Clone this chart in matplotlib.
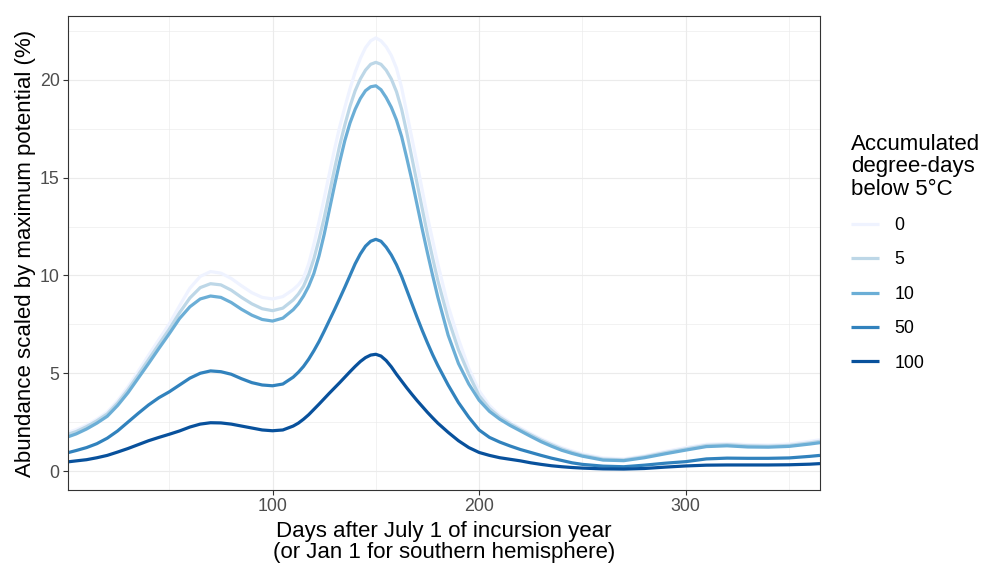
import matplotlib
matplotlib.use("Agg")
import matplotlib.pyplot as plt
from matplotlib.ticker import FixedLocator

plt.rcParams['font.family'] = ['Liberation Sans', 'DejaVu Sans']

days = [1, 5, 10, 15, 20, 25, 30, 35, 40, 45, 50, 55, 60, 65, 70, 75, 80, 85,
        90, 95, 100, 105,
        110, 112.5, 115, 117.5, 120, 122.5, 125, 127.5, 130, 132.5, 135, 137.5,
        140, 142.5, 145, 147.5, 150, 152.5, 155, 157.5, 160, 162.5, 165, 167.5,
        170, 172.5, 175, 177.5, 180,
        185, 190, 195, 200, 205, 210, 215, 220, 225, 230, 235, 240, 245, 250,
        260, 270, 280, 290, 300, 310, 320, 330, 340, 350, 360, 365]

dd0 = [1.97, 2.12, 2.35, 2.65, 3.02, 3.6, 4.3, 5.1, 5.92, 6.72, 7.52, 8.45,
       9.35, 9.95, 10.2, 10.12, 9.85, 9.47, 9.12, 8.88, 8.8, 8.92,
       9.28, 9.52, 9.88, 10.6, 11.6, 12.75, 13.95, 15.2, 16.45, 17.6,
       18.6, 19.55, 20.4, 21.1, 21.65, 22.0, 22.15, 22.0, 21.7, 21.25,
       20.6, 19.6, 18.3, 17.0, 15.7, 14.35, 13.0, 11.8, 10.6,
       8.45, 6.75, 5.25, 4.1, 3.35, 2.85, 2.5, 2.2, 1.92, 1.65, 1.42, 1.2,
       1.03, 0.88,
       0.67, 0.62, 0.78, 1.0, 1.2, 1.37, 1.41, 1.35, 1.33, 1.38, 1.52, 1.6]

dd5 = [1.88, 2.02, 2.27, 2.57, 2.92, 3.48, 4.15, 4.92, 5.7, 6.48, 7.25, 8.1,
       8.85, 9.38, 9.58, 9.52, 9.25, 8.88, 8.55, 8.3, 8.2, 8.33,
       8.75, 9.05, 9.45, 10.05, 10.85, 11.85, 12.95, 14.2, 15.45, 16.65,
       17.7, 18.65, 19.45, 20.05, 20.5, 20.8, 20.9, 20.8, 20.5, 20.05,
       19.4, 18.5, 17.3, 16.0, 14.7, 13.4, 12.1, 10.9, 9.75,
       7.8, 6.2, 4.95, 3.85, 3.2, 2.75, 2.42, 2.12, 1.85, 1.58, 1.35, 1.13,
       0.96, 0.81,
       0.61, 0.57, 0.73, 0.94, 1.13, 1.31, 1.35, 1.29, 1.27, 1.31, 1.44, 1.52]

dd10 = [1.75, 1.9, 2.15, 2.45, 2.8, 3.35, 4.0, 4.75, 5.5, 6.27, 7.02, 7.8,
        8.4, 8.8, 8.95, 8.88, 8.62, 8.27, 7.97, 7.75, 7.67, 7.82,
        8.25, 8.55, 8.95, 9.45, 10.1, 11.0, 12.1, 13.35, 14.6, 15.8,
        16.9, 17.8, 18.5, 19.05, 19.45, 19.65, 19.7, 19.5, 19.1, 18.6,
        17.95, 17.1, 16.0, 14.85, 13.6, 12.35, 11.15, 10.0, 8.9,
        6.95, 5.5, 4.45, 3.62, 3.05, 2.65, 2.33, 2.05, 1.77, 1.5, 1.27, 1.06,
        0.9, 0.76,
        0.56, 0.53, 0.68, 0.88, 1.07, 1.25, 1.29, 1.23, 1.22, 1.26, 1.38, 1.45]

dd50 = [0.94, 1.05, 1.2, 1.4, 1.68, 2.05, 2.5, 2.95, 3.38, 3.75, 4.05, 4.4,
        4.75, 5.0, 5.12, 5.08, 4.95, 4.72, 4.52, 4.4, 4.36, 4.45,
        4.8, 5.05, 5.35, 5.72, 6.15, 6.62, 7.15, 7.7, 8.25, 8.82,
        9.4, 10.0, 10.6, 11.1, 11.5, 11.75, 11.85, 11.75, 11.45, 11.05,
        10.55, 9.95, 9.25, 8.55, 7.85, 7.18, 6.55, 5.95, 5.4,
        4.4, 3.5, 2.75, 2.1, 1.72, 1.48, 1.28, 1.1, 0.95, 0.8, 0.66, 0.54,
        0.42, 0.34,
        0.25, 0.22, 0.3, 0.4, 0.48, 0.62, 0.66, 0.65, 0.65, 0.67, 0.75, 0.8]

dd100 = [0.47, 0.52, 0.58, 0.68, 0.8, 0.97, 1.15, 1.35, 1.55, 1.72, 1.88,
         2.05, 2.25, 2.4, 2.47, 2.46, 2.4, 2.3, 2.2, 2.1, 2.06, 2.1,
         2.3, 2.45, 2.65, 2.88, 3.15, 3.42, 3.7, 3.98, 4.25, 4.52,
         4.8, 5.08, 5.35, 5.6, 5.8, 5.93, 5.97, 5.88, 5.65, 5.33,
         4.95, 4.6, 4.25, 3.92, 3.6, 3.3, 3.0, 2.72, 2.45,
         1.98, 1.55, 1.2, 0.95, 0.8, 0.68, 0.6, 0.52, 0.42, 0.34, 0.27, 0.22,
         0.18, 0.15,
         0.11, 0.1, 0.13, 0.2, 0.26, 0.3, 0.31, 0.31, 0.31, 0.32, 0.35, 0.38]

series_labels = ['0', '5', '10', '50', '100']
series_values = [dd0, dd5, dd10, dd50, dd100]
colors = ['#EFF3FF', '#BDD7E7', '#6BAED6', '#3182BD', '#08519C']

x_ticks = [100, 200, 300]
y_ticks = [0, 5, 10, 15, 20]

fig = plt.figure(figsize=(9.82, 5.66), dpi=100)
ax = fig.add_axes([68 / 982, 76 / 566, (820 - 68) / 982, (490 - 16) / 566])

for lab, vals, c in zip(series_labels, series_values, colors):
    ax.plot(days, vals, color=c, lw=2.3, label=lab,
            solid_joinstyle='round', solid_capstyle='butt')

ax.set_xlim(1, 365)
ax.set_ylim(-0.97, 23.27)
ax.xaxis.set_major_locator(FixedLocator(x_ticks))
ax.yaxis.set_major_locator(FixedLocator(y_ticks))
ax.xaxis.set_minor_locator(FixedLocator([50, 150, 250, 350]))
ax.yaxis.set_minor_locator(FixedLocator([2.5, 7.5, 12.5, 17.5, 22.5]))

ax.grid(which='major', color='#EBEBEB', lw=0.8, zorder=0)
ax.grid(which='minor', color='#EBEBEB', lw=0.45, zorder=0)
ax.set_axisbelow(True)
for s in ax.spines.values():
    s.set_color('#333333')
    s.set_linewidth(0.8)

ax.tick_params(which='major', length=3.5, width=0.8, color='#333333',
               labelsize=12.8, labelcolor='#4D4D4D', pad=2.5)
ax.tick_params(which='minor', length=0)

ax.set_xlabel('Days after July 1 of incursion year\n(or Jan 1 for southern hemisphere)',
              fontsize=16, linespacing=1.0, labelpad=4)
ax.set_ylabel('Abundance scaled by maximum potential (%)', fontsize=16, labelpad=3)

leg = ax.legend(loc='upper left', bbox_to_anchor=(851 / 982, 1 - 134 / 566),
                bbox_transform=fig.transFigure, frameon=False,
                title='Accumulated\ndegree-days\nbelow 5°C', fontsize=12.8,
                title_fontsize=16, handlelength=1.55, handletextpad=0.9,
                labelspacing=0.98, borderpad=0, borderaxespad=0, alignment='left')
leg.get_title().set_linespacing(1.08)
for h in leg.get_lines():
    h.set_linewidth(2.3)

fig.savefig('out.png', dpi=100, facecolor='white')
